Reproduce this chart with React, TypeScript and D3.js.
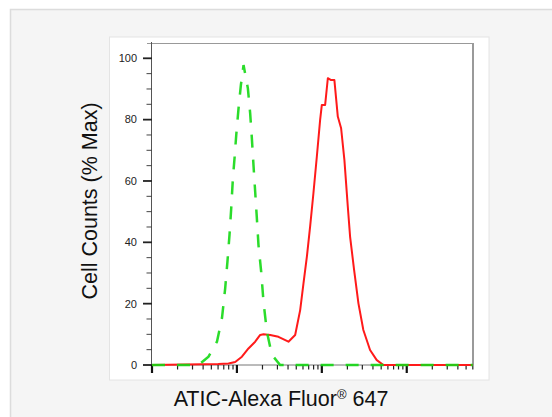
import React from 'react'
import * as d3 from 'd3'

// fluorescence channel values (log axis) and % of max counts
const isotypeX = [1, 3.53, 4.63, 5.82, 6.67, 7.28, 7.74, 8.18, 8.57, 8.97, 9.38, 9.82, 10.45, 11.14, 11.97, 13.46, 14.32, 15.0, 15.67, 16.41, 17.18, 17.95, 19.32, 20.56, 22.54, 25.82, 32.28, 6000]
const isotypeY = [0, 0, 2.7, 7.6, 15.3, 25.1, 33.8, 42.4, 51.1, 60.9, 67.5, 75.0, 83.7, 91.3, 97.8, 90.2, 82.1, 73.9, 65.2, 56.5, 47.8, 39.1, 30.4, 20.6, 10.9, 3.3, 0, 0]

const aticX = [1, 6.03, 7.96, 9.55, 11.45, 13.68, 16.41, 18.79, 20.56, 24.66, 30.83, 40.46, 48.53, 55.59, 60.81, 66.68, 72.78, 79.62, 87.3, 95.5, 100, 109.4, 117.7, 128.5, 140.6, 154.2, 168.7, 184.5, 202.3, 215.3, 239.9, 269.8, 308.3, 369.8, 443.6, 530.9, 6000]
const aticY = [0, 0.3, 0.5, 1.0, 2.7, 5.4, 7.6, 9.8, 10.0, 9.8, 9.2, 7.6, 9.8, 17.9, 26.6, 35.3, 45.1, 56.0, 67.9, 79.9, 84.8, 84.8, 93.5, 92.9, 92.9, 81.0, 77.2, 66.8, 51.6, 41.8, 31.0, 20.1, 11.4, 4.9, 1.6, 0, 0]

const yMajor = [0, 20, 40, 60, 80, 100]
const decades = [1, 10, 100, 1000]

const W = 552
const H = 417
const plot = { left: 152, right: 473, top: 43, bottom: 365 }
const font = 'Helvetica, "Liberation Sans", Arial, sans-serif'

export default function App() {
  const x = d3.scaleLog().domain([1, 6030]).range([plot.left, plot.right])
  const y = d3.scaleLinear().domain([0, 100]).range([plot.bottom, 58.3])

  const line = d3.line<[number, number]>()
    .x(d => x(d[0]))
    .y(d => y(d[1]))

  const isoPts = isotypeX.map((v, i) => [v, isotypeY[i]] as [number, number])
  const aticPts = aticX.map((v, i) => [v, aticY[i]] as [number, number])

  const yMinor = d3.range(0, 101, 5).filter(v => !yMajor.includes(v))
  const xMinor: number[] = []
  decades.forEach(d => {
    for (let k = 2; k <= 9; k++) {
      if (d * k <= 6030) xMinor.push(d * k)
    }
  })

  return (
    <svg width={W} height={H} style={{ position: 'absolute', left: 0, top: 0 }} fontFamily={font}>
      <rect x={0} y={0} width={W} height={H} fill="#fff" />
      <rect x={10.5} y={9.5} width={W + 10} height={H + 10} fill="#f5f5f5" stroke="#dcdcdc" strokeWidth={1.5} />
      <rect x={109.5} y={37} width={379.5} height={343} fill="#fff" stroke="#e4e4e4" strokeWidth={1} />

      {/* frame */}
      <line x1={147} x2={plot.right} y1={plot.top + 0.5} y2={plot.top + 0.5} stroke="#999" strokeWidth={1} />
      <line x1={plot.right} x2={plot.right} y1={plot.top} y2={plot.bottom} stroke="#9a9a9a" strokeWidth={2} />
      <line x1={plot.left - 0.5} x2={plot.left - 0.5} y1={42} y2={plot.bottom} stroke="#555" strokeWidth={1} />
      <line x1={plot.left} x2={plot.right} y1={plot.bottom} y2={plot.bottom} stroke="#777" strokeWidth={1} />

      {/* y ticks */}
      {yMajor.map(v => (
        <g key={'ym' + v}>
          <line x1={143} x2={plot.left} y1={y(v)} y2={y(v)} stroke="#222" strokeWidth={1.8} />
          <text x={137} y={y(v)} dy="0.35em" textAnchor="end" fontSize={11} fill="#222">{v}</text>
        </g>
      ))}
      {yMinor.map(v => (
        <line key={'yn' + v} x1={146.5} x2={plot.left} y1={y(v)} y2={y(v)} stroke="#444" strokeWidth={1} />
      ))}

      {/* x ticks */}
      {decades.map(v => (
        <line key={'xm' + v} x1={x(v)} x2={x(v)} y1={plot.bottom} y2={plot.bottom + 8} stroke="#111" strokeWidth={2.2} />
      ))}
      {xMinor.map(v => (
        <line key={'xn' + v} x1={x(v)} x2={x(v)} y1={plot.bottom} y2={plot.bottom + 4.5} stroke="#222" strokeWidth={1.2} />
      ))}

      {/* histograms */}
      <path d={line(aticPts) ?? ''} fill="none" stroke="#ff1a1a" strokeWidth={2} strokeLinejoin="round" />
      <path d={line(isoPts) ?? ''} fill="none" stroke="#14d814" strokeWidth={2.5} strokeDasharray="13,12" strokeOpacity={0.9} />

      {/* labels */}
      <text transform={`translate(97, ${(plot.top + plot.bottom) / 2 - 3}) rotate(-90)`} textAnchor="middle" fontSize={21.5} fill="#111">
        Cell Counts (% Max)
      </text>
      <text x={281} y={406} textAnchor="middle" fontSize={21.5} fill="#111">
        ATIC-Alexa Fluor<tspan fontSize={13} dy={-7}>®</tspan><tspan dy={7}> 647</tspan>
      </text>
    </svg>
  )
}
